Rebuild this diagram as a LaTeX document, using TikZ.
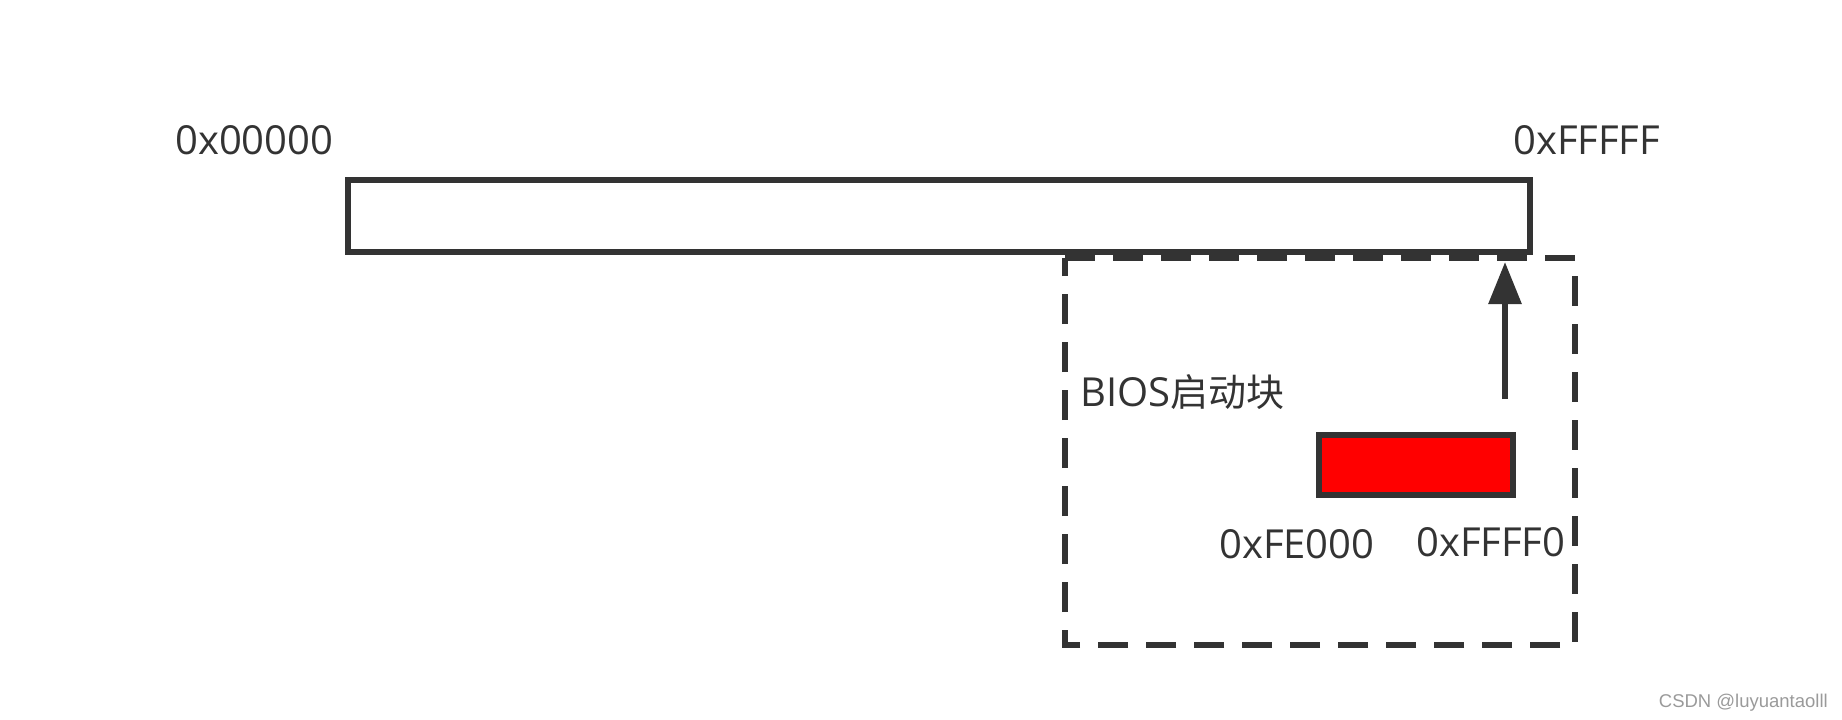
\documentclass[tikz,border=0pt]{standalone}
\usepackage{fontspec}
\setmainfont{Open Sans}
\newfontfamily\cjk{Noto Sans CJK SC}
\newfontfamily\wmfont{Liberation Sans}
\usetikzlibrary{arrows.meta}
\definecolor{ink}{HTML}{333333}
\definecolor{wm}{HTML}{9A9A9A}
\tikzset{
  box/.style={draw=ink, line width=6.3pt},
  dashbox/.style={draw=ink, line width=6.3pt, dash pattern=on 30pt off 18pt},
  redbox/.style={draw=ink, fill=red, line width=6.3pt},
  lbl/.style={text=ink, inner sep=0pt, anchor=base west, font=\fontsize{40}{48}\selectfont},
  arr/.style={draw=ink, line width=6pt, -{Triangle[width=32pt,length=42pt]}}
}
\begin{document}
\begin{tikzpicture}[x=1pt,y=-1pt]
\useasboundingbox (0,0) rectangle (1842,720);
% main memory bar
\draw[box] (348,180) rectangle (1530,252);
\node[inner sep=0pt, minimum width=1182pt, minimum height=72pt] (bar) at (939,216) {};
% BIOS region dashed box
\draw[dashbox] (1065,258) -- (1575,258) -- (1575,645) -- (1065,645) -- cycle;
\node[inner sep=0pt, minimum width=510pt, minimum height=387pt] (bios) at (1320,451.5) {};
% red block
\draw[redbox] (1319,435) rectangle (1513,495);
\node[inner sep=0pt, minimum width=194pt, minimum height=60pt] (red) at (1416,465) {};
% arrow
\coordinate (astart) at (1505,399);
\coordinate (aend) at (1505,262);
\draw[arr] (astart) -- (aend);
% labels
\node[lbl] (l0) at (175,154) {0x00000};
\node[lbl] (l1) at (1513,154) {0xFFFFF};
\node[lbl] (l2) at (1080,406) {BIOS{\cjk\fontsize{38}{46}\selectfont 启动块}};
\node[lbl] (l3) at (1219,558) {0xFE000};
\node[lbl] (l4) at (1416,556) {0xFFFF0};
\node[text=wm, inner sep=0pt, anchor=base east, font=\wmfont\fontsize{18.5}{20}\selectfont] (wmk) at (1828,707) {CSDN @luyuantaolll};
\end{tikzpicture}
\end{document}
